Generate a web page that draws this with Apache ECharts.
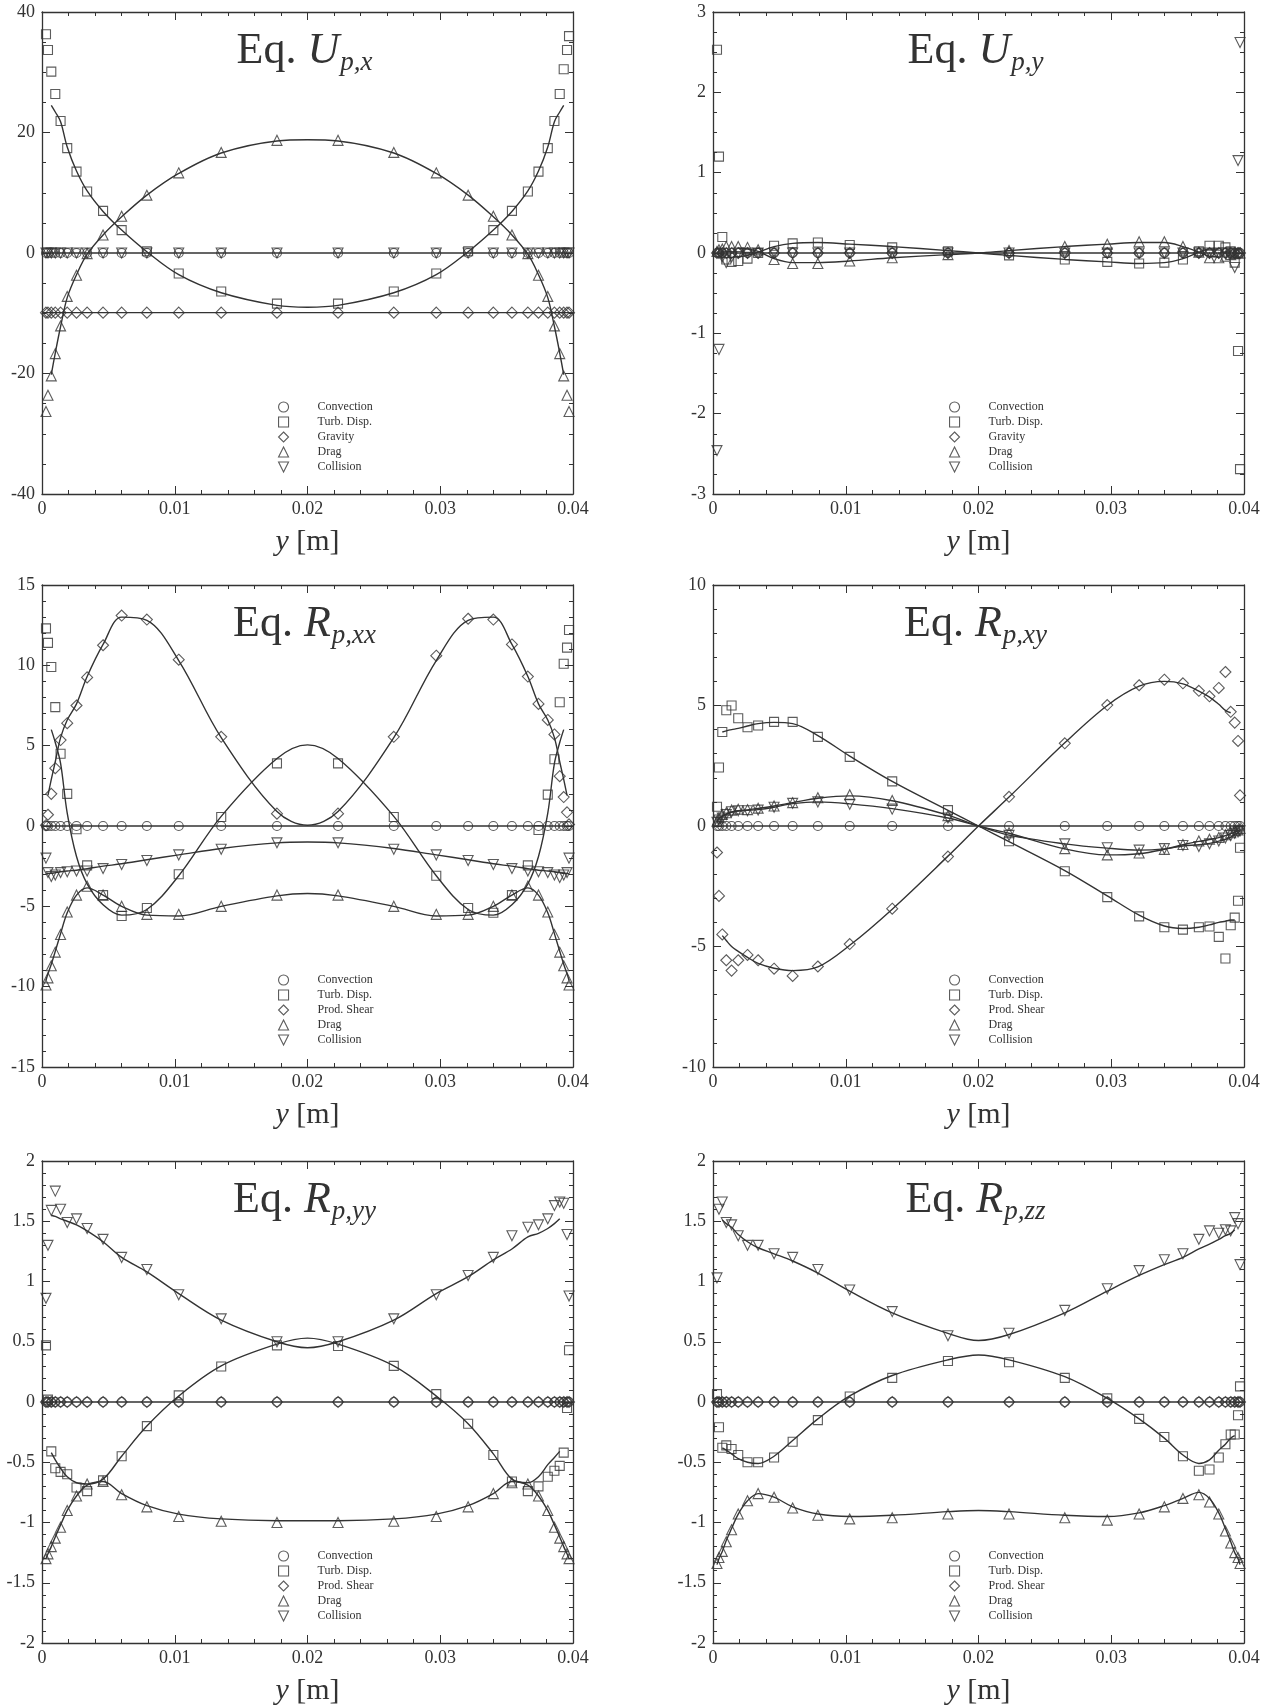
<!DOCTYPE html>
<html>
<head>
<meta charset="utf-8">
<script src="https://cdn.jsdelivr.net/npm/echarts@6/dist/echarts.min.js"></script>
<style>
    html, body { margin: 0; padding: 0; background: #fff; }
    #main { width: 1276px; height: 1708px; }
</style>
</head>
<body>
<div id="main"></div>
<script>
// wall-normal positions of the markers and of the fitted curves
var X = [0.0003, 0.00045, 0.0007, 0.001, 0.0014, 0.0019, 0.0026, 0.0034, 0.0046, 0.006, 0.0079, 0.0103, 0.0135, 0.0177,
         0.0223, 0.0265, 0.0297, 0.0321, 0.034, 0.0354, 0.0366, 0.0374, 0.0381, 0.0386, 0.039, 0.0393, 0.03955, 0.0397];
var LX = [0, 0.0003, 0.00045, 0.0007, 0.001, 0.0014, 0.0019, 0.0026, 0.0034, 0.0046, 0.006, 0.0079, 0.0103, 0.0135, 0.0177, 0.02,
          0.0223, 0.0265, 0.0297, 0.0321, 0.034, 0.0354, 0.0366, 0.0374, 0.0381, 0.0386, 0.039, 0.0393, 0.03955, 0.0397, 0.04];

var ZERO_PTS = [0, 0, 0, 0, 0, 0, 0, 0, 0, 0, 0, 0, 0, 0, 0, 0, 0, 0, 0, 0, 0, 0, 0, 0, 0, 0, 0, 0];
var ZERO_LINE = [0, 0, 0, 0, 0, 0, 0, 0, 0, 0, 0, 0, 0, 0, 0, 0, 0, 0, 0, 0, 0, 0, 0, 0, 0, 0, 0, 0, 0, 0, 0];

var LEGEND_U = ['Convection', 'Turb. Disp.', 'Gravity', 'Drag', 'Collision'];
var LEGEND_R = ['Convection', 'Turb. Disp.', 'Prod. Shear', 'Drag', 'Collision'];

// ---- Eq. U_p,x
var upxTurb = [36.3, 33.7, 30.1, 26.4, 21.9, 17.4, 13.5, 10.2, 7.0, 3.8, 0.3, -3.4, -6.4, -8.4, -8.4, -6.4, -3.4, 0.3, 3.8, 7.0, 10.2, 13.5, 17.4, 21.9, 26.4, 30.5, 33.7, 36.0];
var upxGrav = [-9.9, -9.9, -9.9, -9.9, -9.9, -9.9, -9.9, -9.9, -9.9, -9.9, -9.9, -9.9, -9.9, -9.9, -9.9, -9.9, -9.9, -9.9, -9.9, -9.9, -9.9, -9.9, -9.9, -9.9, -9.9, -9.9, -9.9, -9.9];
var upxDrag = [-26.3, -23.6, -20.4, -16.7, -12.1, -7.2, -3.7, -0.1, 3.0, 6.1, 9.6, 13.3, 16.7, 18.7, 18.7, 16.7, 13.3, 9.6, 6.1, 3.0, -0.1, -3.7, -7.2, -12.1, -16.7, -20.4, -23.6, -26.3];
var upxTurbLine = [null, null, null, 24.5, 23.4, 21.8, 17.6, 13.6, 10.3, 6.9, 3.8, 0.2, -3.6, -6.6, -8.7, -9.0, -8.7, -6.6, -3.6, 0.2, 3.8, 6.9, 10.3, 13.6, 17.6, 21.8, 23.4, 24.5, null, null, null];
var upxGravLine = [-9.9, -9.9, -9.9, -9.9, -9.9, -9.9, -9.9, -9.9, -9.9, -9.9, -9.9, -9.9, -9.9, -9.9, -9.9, -9.9, -9.9, -9.9, -9.9, -9.9, -9.9, -9.9, -9.9, -9.9, -9.9, -9.9, -9.9, -9.9, -9.9, -9.9, -9.9];
var upxDragLine = [null, null, null, -20.2, -16.6, -12.2, -7.4, -3.6, -0.2, 3.0, 6.0, 9.6, 13.2, 16.6, 18.6, 18.8, 18.6, 16.6, 13.2, 9.6, 6.0, 3.0, -0.2, -3.6, -7.4, -12.2, -16.6, -20.2, null, null, null];

// ---- Eq. U_p,y
var upyTurb = [2.53, 1.2, 0.2, -0.08, -0.11, -0.1, -0.07, 0.0, 0.09, 0.12, 0.13, 0.1, 0.07, 0.02, -0.03, -0.08, -0.11, -0.13, -0.12, -0.08, 0.02, 0.09, 0.09, 0.07, 0.02, -0.12, -1.22, -2.69];
var upyDrag = [0.02, 0.04, 0.05, 0.08, 0.08, 0.08, 0.07, 0.04, -0.08, -0.13, -0.13, -0.1, -0.06, -0.02, 0.03, 0.08, 0.11, 0.14, 0.14, 0.08, 0.01, -0.06, -0.06, -0.04, -0.02, -0.01, 0.0, 0.0];
var upyColl = [-2.46, -1.2, -0.05, -0.12, -0.05, 0, 0, 0, 0, 0, 0, 0, 0, 0, 0, 0, 0, 0, 0, 0, 0, 0, 0, 0, 0, -0.18, 1.15, 2.62];
var upyTurbLine = [null, null, null, null, null, null, -0.05, -0.03, 0.01, 0.08, 0.12, 0.13, 0.11, 0.08, 0.03, 0.0, -0.03, -0.08, -0.11, -0.13, -0.12, -0.07, 0.01, 0.05, 0.05, null, null, null, null, null, null];
var upyDragLine = [null, null, null, null, null, null, 0.06, 0.05, 0.02, -0.07, -0.12, -0.12, -0.1, -0.06, -0.02, 0.0, 0.03, 0.08, 0.11, 0.13, 0.13, 0.08, 0.01, -0.04, -0.05, null, null, null, null, null, null];

// ---- Eq. R_p,xx
var rxxTurb = [12.3, 11.4, 9.9, 7.4, 4.5, 2.0, -0.2, -2.45, -4.3, -5.6, -5.1, -3.0, 0.56, 3.9, 3.9, 0.56, -3.1, -5.1, -5.4, -4.3, -2.45, -0.25, 1.95, 4.15, 7.7, 10.1, 11.1, 12.2];
var rxxShear = [0.05, 0.7, 2.0, 3.6, 5.35, 6.4, 7.5, 9.25, 11.25, 13.1, 12.85, 10.35, 5.55, 0.77, 0.77, 5.55, 10.6, 12.9, 12.85, 11.3, 9.3, 7.6, 6.6, 5.7, 3.1, 1.8, 0.85, 0.1];
var rxxDrag = [-9.9, -9.45, -8.7, -7.85, -6.75, -5.35, -4.3, -3.75, -4.3, -5.0, -5.5, -5.5, -5.0, -4.3, -4.3, -5.0, -5.5, -5.5, -5.0, -4.3, -3.75, -4.3, -5.35, -6.75, -7.85, -8.7, -9.45, -9.9];
var rxxColl = [-2.0, -2.9, -3.15, -3.05, -2.9, -2.85, -2.8, -2.8, -2.65, -2.4, -2.15, -1.8, -1.45, -1.05, -1.05, -1.45, -1.8, -2.15, -2.4, -2.65, -2.8, -2.85, -2.9, -3.05, -3.2, -3.05, -2.9, -2.0];
var rxxTurbLine = [null, null, null, 6.0, 5.2, 3.9, 0.8, -1.9, -3.6, -4.9, -5.55, -5.2, -3.1, 0.6, 4.2, 5.05, 4.2, 0.6, -3.1, -5.2, -5.55, -4.9, -3.6, -1.9, 0.8, 3.9, 5.2, 6.0, null, null, null];
var rxxShearLine = [null, null, 1.9, 2.9, 4.0, 5.5, 6.6, 7.6, 9.3, 11.3, 13.0, 12.8, 10.3, 5.5, 0.9, 0.05, 0.9, 5.5, 10.3, 12.8, 13.0, 11.3, 9.3, 7.6, 6.6, 5.5, 4.0, 2.9, 1.9, null, null];
var rxxDragLine = [null, -9.6, -9.2, -8.6, -7.8, -6.7, -5.4, -4.3, -3.85, -4.3, -5.0, -5.55, -5.6, -5.0, -4.35, -4.2, -4.35, -5.0, -5.6, -5.55, -5.0, -4.3, -3.85, -4.3, -5.4, -6.7, -7.8, -8.6, -9.2, -9.6, null];
var rxxCollLine = [null, -3.0, -2.95, -2.95, -2.9, -2.85, -2.8, -2.75, -2.65, -2.5, -2.35, -2.1, -1.8, -1.4, -1.05, -1.0, -1.05, -1.4, -1.8, -2.1, -2.35, -2.5, -2.65, -2.75, -2.8, -2.85, -2.9, -2.95, -2.95, -3.0, null];

// ---- Eq. R_p,xy
var rxyTurb = [0.8, 2.43, 3.9, 4.8, 5.0, 4.47, 4.1, 4.17, 4.32, 4.32, 3.7, 2.87, 1.85, 0.66, -0.63, -1.88, -2.95, -3.75, -4.2, -4.3, -4.2, -4.17, -4.6, -5.5, -4.12, -3.8, -3.1, -0.9];
var rxyShear = [-1.1, -2.9, -4.5, -5.57, -6.0, -5.57, -5.35, -5.57, -5.92, -6.22, -5.83, -4.9, -3.43, -1.27, 1.21, 3.43, 5.02, 5.84, 6.07, 5.92, 5.61, 5.38, 5.73, 6.39, 4.74, 4.29, 3.53, 1.27];
var rxyDrag = [0.2, 0.33, 0.48, 0.55, 0.66, 0.7, 0.68, 0.74, 0.83, 0.97, 1.17, 1.3, 1.06, 0.43, -0.28, -0.94, -1.2, -1.12, -0.97, -0.77, -0.62, -0.55, -0.48, -0.36, -0.28, -0.2, -0.16, -0.1];
var rxyColl = [0.15, 0.25, 0.33, 0.48, 0.59, 0.63, 0.63, 0.66, 0.78, 0.94, 1.0, 0.9, 0.7, 0.33, -0.39, -0.74, -0.9, -1.0, -0.94, -0.81, -0.85, -0.74, -0.62, -0.5, -0.4, -0.3, -0.25, -0.2];
var rxyTurbLine = [null, null, null, 3.9, 3.95, 4.0, 4.05, 4.15, 4.25, 4.3, 4.25, 3.75, 2.9, 1.85, 0.65, 0.0, -0.65, -1.85, -2.9, -3.7, -4.15, -4.25, -4.2, -4.1, -4.0, -3.95, -3.9, -3.9, null, null, null];
var rxyShearLine = [null, null, null, -4.55, -4.75, -5.0, -5.2, -5.45, -5.7, -5.9, -6.0, -5.85, -4.95, -3.45, -1.25, 0.0, 1.2, 3.45, 5.0, 5.8, 6.0, 5.9, 5.6, 5.35, 5.05, 4.8, 4.7, null, null, null, null];
var rxyDragLine = [null, 0.2, 0.3, 0.42, 0.5, 0.58, 0.63, 0.67, 0.73, 0.83, 0.97, 1.15, 1.25, 1.05, 0.45, 0.0, -0.3, -0.95, -1.2, -1.15, -0.97, -0.78, -0.64, -0.56, -0.48, -0.4, -0.32, -0.25, -0.2, -0.15, null];
var rxyCollLine = [null, 0.15, 0.3, 0.4, 0.48, 0.57, 0.62, 0.65, 0.68, 0.78, 0.93, 1.0, 0.92, 0.72, 0.33, 0.0, -0.38, -0.74, -0.92, -1.0, -0.95, -0.83, -0.78, -0.72, -0.63, -0.55, -0.46, -0.35, -0.28, -0.2, null];

// ---- Eq. R_p,yy
var ryyTurb = [0.47, 0.02, -0.41, -0.55, -0.58, -0.6, -0.71, -0.74, -0.65, -0.45, -0.2, 0.055, 0.295, 0.47, 0.465, 0.3, 0.065, -0.18, -0.44, -0.66, -0.74, -0.7, -0.62, -0.57, -0.53, -0.42, -0.05, 0.43];
var ryyDrag = [-1.3, -1.26, -1.2, -1.13, -1.04, -0.9, -0.78, -0.68, -0.66, -0.77, -0.87, -0.95, -0.99, -1.0, -1.0, -0.99, -0.95, -0.87, -0.76, -0.67, -0.68, -0.78, -0.9, -1.04, -1.13, -1.2, -1.26, -1.3];
var ryyColl = [0.86, 1.3, 1.59, 1.75, 1.6, 1.49, 1.52, 1.44, 1.35, 1.2, 1.1, 0.89, 0.69, 0.5, 0.5, 0.69, 0.89, 1.05, 1.2, 1.38, 1.45, 1.47, 1.52, 1.63, 1.66, 1.65, 1.39, 0.88];
var ryyTurbLine = [null, null, null, -0.42, -0.48, -0.55, -0.62, -0.67, -0.68, -0.64, -0.45, -0.2, 0.05, 0.3, 0.48, 0.53, 0.48, 0.3, 0.05, -0.18, -0.43, -0.64, -0.67, -0.62, -0.52, -0.46, -0.41, null, null, null, null];
var ryyDragLine = [null, -1.3, -1.26, -1.2, -1.12, -1.02, -0.9, -0.78, -0.69, -0.66, -0.76, -0.86, -0.93, -0.97, -0.985, -0.985, -0.985, -0.97, -0.93, -0.86, -0.76, -0.66, -0.69, -0.78, -0.9, -1.02, -1.12, -1.2, -1.26, -1.3, null];
var ryyCollLine = [null, null, null, 1.55, 1.54, 1.52, 1.5, 1.47, 1.42, 1.33, 1.2, 1.08, 0.9, 0.68, 0.5, 0.45, 0.5, 0.68, 0.9, 1.04, 1.18, 1.27, 1.37, 1.4, 1.44, 1.48, 1.52, null, null, null, null];

// ---- Eq. R_p,zz
var rzzTurb = [0.065, -0.21, -0.38, -0.36, -0.39, -0.44, -0.5, -0.5, -0.46, -0.33, -0.15, 0.046, 0.2, 0.34, 0.33, 0.2, 0.03, -0.14, -0.29, -0.45, -0.57, -0.56, -0.46, -0.35, -0.27, -0.27, -0.11, 0.13];
var rzzDrag = [-1.34, -1.29, -1.24, -1.16, -1.06, -0.93, -0.82, -0.76, -0.79, -0.88, -0.94, -0.97, -0.96, -0.93, -0.93, -0.96, -0.98, -0.93, -0.87, -0.8, -0.77, -0.83, -0.93, -1.07, -1.17, -1.25, -1.29, -1.34];
var rzzColl = [1.03, 1.6, 1.66, 1.49, 1.47, 1.38, 1.3, 1.3, 1.23, 1.2, 1.1, 0.93, 0.75, 0.55, 0.57, 0.76, 0.94, 1.09, 1.18, 1.23, 1.35, 1.42, 1.4, 1.43, 1.42, 1.53, 1.48, 1.14];
var rzzTurbLine = [null, null, null, -0.38, -0.4, -0.43, -0.47, -0.5, -0.51, -0.45, -0.32, -0.14, 0.05, 0.22, 0.35, 0.39, 0.35, 0.21, 0.03, -0.14, -0.3, -0.44, -0.51, -0.48, -0.4, -0.35, -0.3, -0.28, null, null, null];
var rzzDragLine = [null, -1.35, -1.3, -1.24, -1.15, -1.05, -0.93, -0.82, -0.76, -0.79, -0.87, -0.93, -0.95, -0.94, -0.91, -0.9, -0.91, -0.94, -0.95, -0.92, -0.86, -0.8, -0.75, -0.8, -0.92, -1.05, -1.16, -1.25, -1.3, -1.35, null];
var rzzCollLine = [null, null, null, 1.51, 1.48, 1.45, 1.39, 1.33, 1.28, 1.23, 1.17, 1.07, 0.92, 0.74, 0.57, 0.51, 0.56, 0.74, 0.92, 1.05, 1.14, 1.2, 1.27, 1.31, 1.35, 1.38, 1.4, 1.43, null, null, null];

var panels = [
    { sym: 'U', sub: 'p,x', min: -40, max: 40, step: 20, minor: 4, names: LEGEND_U,
      pts: [ZERO_PTS, upxTurb, upxGrav, upxDrag, ZERO_PTS],
      lines: [ZERO_LINE, upxTurbLine, upxGravLine, upxDragLine] },
    { sym: 'U', sub: 'p,y', min: -3, max: 3, step: 1, minor: 4, names: LEGEND_U,
      pts: [ZERO_PTS, upyTurb, ZERO_PTS, upyDrag, upyColl],
      lines: [ZERO_LINE, upyTurbLine, upyDragLine] },
    { sym: 'R', sub: 'p,xx', min: -15, max: 15, step: 5, minor: 5, names: LEGEND_R,
      pts: [ZERO_PTS, rxxTurb, rxxShear, rxxDrag, rxxColl],
      lines: [ZERO_LINE, rxxTurbLine, rxxShearLine, rxxDragLine, rxxCollLine] },
    { sym: 'R', sub: 'p,xy', min: -10, max: 10, step: 5, minor: 5, names: LEGEND_R,
      pts: [ZERO_PTS, rxyTurb, rxyShear, rxyDrag, rxyColl],
      lines: [ZERO_LINE, rxyTurbLine, rxyShearLine, rxyDragLine, rxyCollLine] },
    { sym: 'R', sub: 'p,yy', min: -2, max: 2, step: 0.5, minor: 5, names: LEGEND_R,
      pts: [ZERO_PTS, ryyTurb, ZERO_PTS, ryyDrag, ryyColl],
      lines: [ZERO_LINE, ryyTurbLine, ryyDragLine, ryyCollLine] },
    { sym: 'R', sub: 'p,zz', min: -2, max: 2, step: 0.5, minor: 5, names: LEGEND_R,
      pts: [ZERO_PTS, rzzTurb, ZERO_PTS, rzzDrag, rzzColl],
      lines: [ZERO_LINE, rzzTurbLine, rzzDragLine, rzzCollLine] }
];

// marker shapes in legend order (last one is the upside-down triangle)
var markers = [
    { symbol: 'circle', size: 9, rotate: 0, icon: 'circle' },
    { symbol: 'rect', size: 9, rotate: 0, icon: 'rect' },
    { symbol: 'diamond', size: 11, rotate: 0, icon: 'diamond' },
    { symbol: 'triangle', size: 10, rotate: 0, icon: 'triangle' },
    { symbol: 'triangle', size: 10, rotate: 180, icon: 'path://M0,0L10,0L5,10Z' }
];

var FONT = 'Liberation Serif';
var INK = '#333';
var colLeft = [42, 713], plotW = 531;
var rowTop = [12, 585, 1161], plotH = 482;

var grids = [], xAxes = [], yAxes = [], series = [], legends = [], graphics = [];

function fmtX(v) {
    return v === 0 ? '0' : String(Math.round(v * 100) / 100);
}

panels.forEach(function (p, i) {
    var left = colLeft[i % 2], top = rowTop[Math.floor(i / 2)];
    grids.push({ left: left, top: top, width: plotW, height: plotH });

    var tick = { show: true, inside: true, length: 8, lineStyle: { color: INK, width: 1 } };
    var axisLine = { show: true, onZero: false, lineStyle: { color: INK, width: 1.3 } };

    // bottom / top x axes
    xAxes.push({
        gridIndex: i, type: 'value', position: 'bottom', min: 0, max: 0.04, interval: 0.01,
        axisLine: axisLine, axisTick: tick,
        minorTick: { show: true, splitNumber: 5, length: 4, lineStyle: { color: INK } },
        splitLine: { show: false },
        axisLabel: { formatter: fmtX, fontFamily: FONT, fontSize: 18, color: INK, margin: 6 },
        name: '{i|y} [m]', nameLocation: 'middle', nameGap: 33,
        nameTextStyle: { fontFamily: FONT, fontSize: 30, color: INK,
            rich: { i: { fontFamily: FONT, fontStyle: 'italic', fontSize: 30, color: INK } } }
    });
    xAxes.push({
        gridIndex: i, type: 'value', position: 'top', min: 0, max: 0.04, interval: 0.01,
        axisLine: axisLine, axisTick: tick,
        minorTick: { show: true, splitNumber: 5, length: 4, lineStyle: { color: INK } },
        splitLine: { show: false }, axisLabel: { show: false }
    });

    // left / right y axes
    yAxes.push({
        gridIndex: i, type: 'value', position: 'left', min: p.min, max: p.max, interval: p.step,
        axisLine: axisLine, axisTick: tick,
        minorTick: { show: true, splitNumber: p.minor, length: 4, lineStyle: { color: INK } },
        splitLine: { show: false },
        axisLabel: { fontFamily: FONT, fontSize: 18, color: INK, margin: 7 }
    });
    yAxes.push({
        gridIndex: i, type: 'value', position: 'right', min: p.min, max: p.max, interval: p.step,
        axisLine: axisLine, axisTick: tick,
        minorTick: { show: true, splitNumber: p.minor, length: 4, lineStyle: { color: INK } },
        splitLine: { show: false }, axisLabel: { show: false }
    });

    // fitted curves
    p.lines.forEach(function (vals) {
        var d = [];
        for (var k = 0; k < LX.length; k++) {
            if (vals[k] !== null) d.push([LX[k], vals[k]]);
        }
        series.push({
            type: 'line', xAxisIndex: 2 * i, yAxisIndex: 2 * i, data: d,
            showSymbol: false, symbol: 'none', smooth: 0.35, silent: true, z: 2,
            lineStyle: { color: '#333', width: 1.4 }
        });
    });

    // markers
    p.pts.forEach(function (vals, s) {
        var d = [];
        for (var k = 0; k < X.length; k++) d.push([X[k], vals[k]]);
        series.push({
            type: 'scatter', name: p.names[s], xAxisIndex: 2 * i, yAxisIndex: 2 * i, data: d,
            symbol: markers[s].symbol, symbolSize: markers[s].size, symbolRotate: markers[s].rotate,
            itemStyle: { color: 'rgba(0,0,0,0)', borderColor: INK, borderWidth: 1.1 },
            silent: true, z: 3
        });
    });

    legends.push({
        data: p.names.map(function (n, s) { return { name: n, icon: markers[s].icon }; }),
        orient: 'vertical', left: left + 231, top: top + 384,
        itemWidth: 10, itemHeight: 10, itemGap: 3, selectedMode: false,
        itemStyle: { color: 'rgba(0,0,0,0)', borderColor: INK, borderWidth: 1.1 },
        textStyle: { fontFamily: FONT, fontSize: 12, color: INK, padding: [0, 0, 0, 24] }
    });

    // panel title "Eq. U_p,x" etc.
    graphics.push({
        type: 'text', x: left + plotW / 2 - 3, y: top + 14, silent: true,
        style: {
            text: '{a|Eq. }{b|' + p.sym + '}{c|' + p.sub + '}',
            align: 'center', verticalAlign: 'top',
            rich: {
                a: { font: '44px "Liberation Serif", serif', lineHeight: 50, fill: INK },
                b: { font: 'italic 44px "Liberation Serif", serif', lineHeight: 50, fill: INK },
                c: { font: 'italic 27px "Liberation Serif", serif', lineHeight: 27, padding: [23, 0, 0, 1], fill: INK }
            }
        }
    });
});

var chart = echarts.init(document.getElementById('main'));
chart.setOption({
    backgroundColor: '#fff',
    animation: false,
    grid: grids,
    xAxis: xAxes,
    yAxis: yAxes,
    legend: legends,
    graphic: graphics,
    series: series
});
</script>
</body>
</html>
